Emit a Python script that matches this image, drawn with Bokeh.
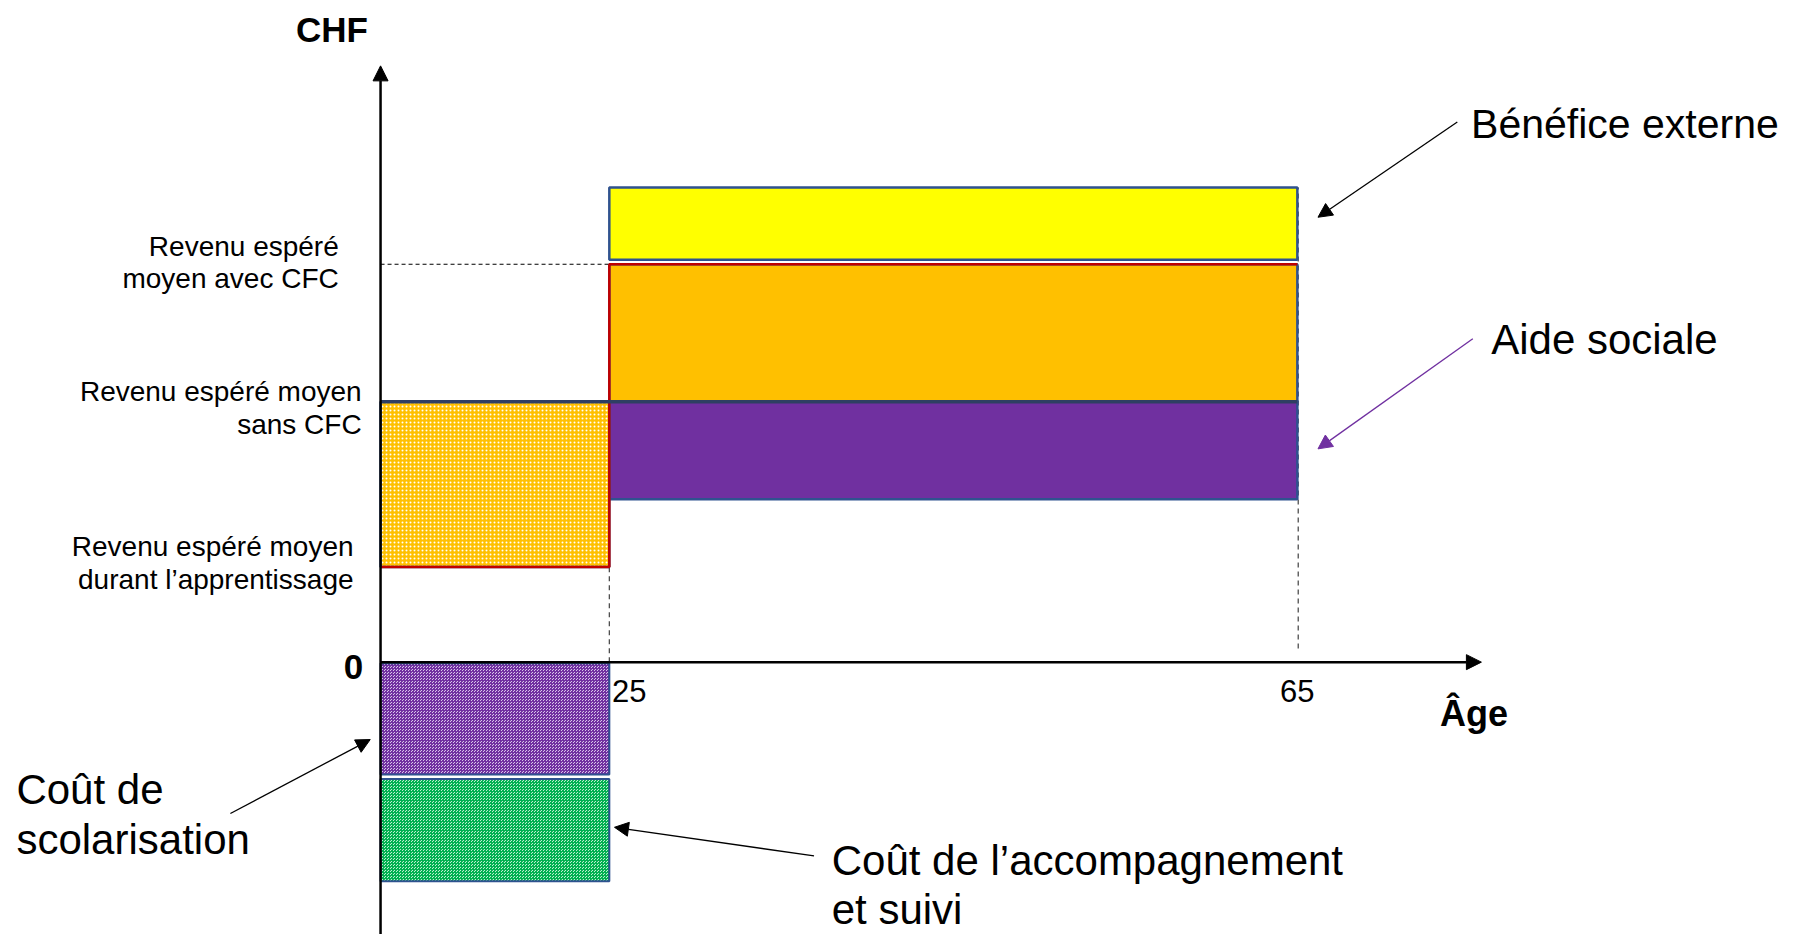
from bokeh.plotting import figure
from bokeh.models import Range1d, Arrow, NormalHead
from bokeh.core.properties import value
from bokeh.embed import file_html
from bokeh.resources import INLINE

# ---------------- data (arbitrary CHF units) ----------------
ages = [25, 65]                      # age ticks
age_origin = 11.7                    # age at the vertical axis
rev_apprentissage = 8.3              # revenu espéré moyen durant l'apprentissage
rev_sans_cfc = 22.7                  # revenu espéré moyen sans CFC
rev_avec_cfc = 34.7                  # revenu espéré moyen avec CFC
aide_sociale_bas = 14.2              # bas de la bande "Aide sociale"
benefice_externe = [35.1, 41.4]      # bande "Bénéfice externe" (bas, haut)
cout_scolarisation = [-9.8, -0.1]    # (bas, haut)
cout_accompagnement = [-19.1, -10.2] # (bas, haut)

tick_labels = ["25", "65"]
level_label_lines = [("Revenu espéré", "moyen avec CFC"),
                     ("Revenu espéré moyen", "sans CFC"),
                     ("Revenu espéré moyen", "durant l\u2019apprentissage")]

FONT = value("Liberation Sans")
NAVY = "#2F528F"

p = figure(width=1782, height=934,
           x_range=Range1d(-10.395, 93.205), y_range=Range1d(-23.75, 57.70),
           output_backend="svg", toolbar_location=None,
           x_axis_type=None, y_axis_type=None, min_border=0,
           outline_line_color=None)
p.background_fill_color = "white"
p.border_fill_color = "white"

a25, a65 = ages

# dashed guide lines
p.line([age_origin, a25], [rev_avec_cfc, rev_avec_cfc], line_color="black",
       line_width=1.2, line_dash="4 3")
p.line([a25, a25], [0, rev_apprentissage], line_color="#404040",
       line_width=1.2, line_dash="5 4")
p.line([a65 + 0.05, a65 + 0.05], [1.2, benefice_externe[1]], line_color="#404040",
       line_width=1.2, line_dash="5 4")

# income bands after 25
p.quad(left=[a25], right=[a65], bottom=[benefice_externe[0]], top=[benefice_externe[1]],
       fill_color="#FFFF00", line_color=NAVY, line_width=2.5)
p.quad(left=[a25], right=[a65], bottom=[rev_sans_cfc], top=[rev_avec_cfc],
       fill_color="#FFC000", line_color=NAVY, line_width=2.5)
p.quad(left=[a25], right=[a65], bottom=[aide_sociale_bas], top=[rev_sans_cfc],
       fill_color="#7030A0", line_color=NAVY, line_width=2.5)

# apprenticeship (dotted)
p.quad(left=[age_origin], right=[a25], bottom=[rev_apprentissage], top=[rev_sans_cfc],
       fill_color="#FFC000", line_color=NAVY, line_width=2.5,
       hatch_pattern="dot", hatch_color="white", hatch_scale=4, hatch_weight=1.2)

# costs (fine checker)
p.quad(left=[age_origin], right=[a25], bottom=[cout_scolarisation[0]], top=[cout_scolarisation[1]],
       fill_color="#D8C4EA", line_color=NAVY, line_width=2,
       hatch_pattern="criss_cross", hatch_color="#7030A0", hatch_scale=3, hatch_weight=1)
p.quad(left=[age_origin], right=[a25], bottom=[cout_accompagnement[0]], top=[cout_accompagnement[1]],
       fill_color="#BDEFD0", line_color=NAVY, line_width=2,
       hatch_pattern="criss_cross", hatch_color="#00B050", hatch_scale=3, hatch_weight=1)

# income path with CFC (red) and without CFC (navy)
p.line([age_origin, a25, a25, a65], [rev_apprentissage, rev_apprentissage, rev_avec_cfc, rev_avec_cfc],
       line_color="#C00000", line_width=2.5)
p.line([age_origin, a65], [rev_sans_cfc, rev_sans_cfc], line_color="#2E3F63", line_width=3.5)

# axes as arrows
p.add_layout(Arrow(end=NormalHead(size=15, fill_color="black", line_color="black"),
                   x_start=age_origin, y_start=-24.45, x_end=age_origin, y_end=52.0,
                   line_color="black", line_width=2.5))
p.add_layout(Arrow(end=NormalHead(size=15, fill_color="black", line_color="black"),
                   x_start=age_origin, y_start=0, x_end=75.7, y_end=0,
                   line_color="black", line_width=2.5))

# annotation arrows
def ann(xs, ys, xe, ye, color):
    p.add_layout(Arrow(end=NormalHead(size=14, fill_color=color, line_color=color),
                       x_start=xs, y_start=ys, x_end=xe, y_end=ye,
                       line_color=color, line_width=1.3))

ann(74.3, 47.1, 66.2, 38.8, "black")
ann(75.2, 28.2, 66.2, 18.6, "#7030A0")
ann(2.97, -13.2, 11.1, -6.75, "black")
ann(36.9, -16.9, 25.3, -14.4, "black")

# texts
p.text(x=[8.87], y=[55.2], text=["CHF"], text_font=FONT, text_font_style="bold",
       text_font_size="35px", text_align="center", text_baseline="middle")
p.text(x=[10.13], y=[-0.4], text=["0"], text_font=FONT, text_font_style="bold",
       text_font_size="35px", text_align="center", text_baseline="middle")
p.text(x=[75.27], y=[-4.5], text=["Âge"], text_font=FONT, text_font_style="bold",
       text_font_size="36px", text_align="center", text_baseline="middle")
p.text(x=[a25, a65], y=[0, 0], text=tick_labels, x_offset=[20, 0], y_offset=[29, 29],
       text_font=FONT, text_font_size="31px", text_align="center", text_baseline="middle")

# level labels (two lines each, anchored on their level)
lvl_y = [rev_avec_cfc, rev_sans_cfc, rev_apprentissage]
lvl_x = [9.27, 10.6, 10.13]
lvl_off = [(-18, 14), (-10, 23), (-20, 13)]
xs, ys, txt, offs = [], [], [], []
for (l1, l2), yy, xx, (o1, o2) in zip(level_label_lines, lvl_y, lvl_x, lvl_off):
    xs += [xx, xx]; ys += [yy, yy]; txt += [l1, l2]; offs += [o1, o2]
p.text(x=xs, y=ys, text=txt, y_offset=offs, text_font=FONT, text_font_size="28px",
       text_align="right", text_baseline="middle")

# callout labels
p.text(x=[-9.47, -9.47, 37.93, 37.93, 75.1, 76.27],
       y=[-11.1, -15.5, -17.3, -21.6, 46.9, 28.1],
       text=["Coût de", "scolarisation", "Coût de l\u2019accompagnement", "et suivi",
             "Bénéfice externe", "Aide sociale"],
       text_font=FONT, text_font_size=["42px", "42px", "42px", "42px", "41px", "42px"],
       text_align="left", text_baseline="middle")

open("out.html", "w").write(file_html(p, INLINE))
